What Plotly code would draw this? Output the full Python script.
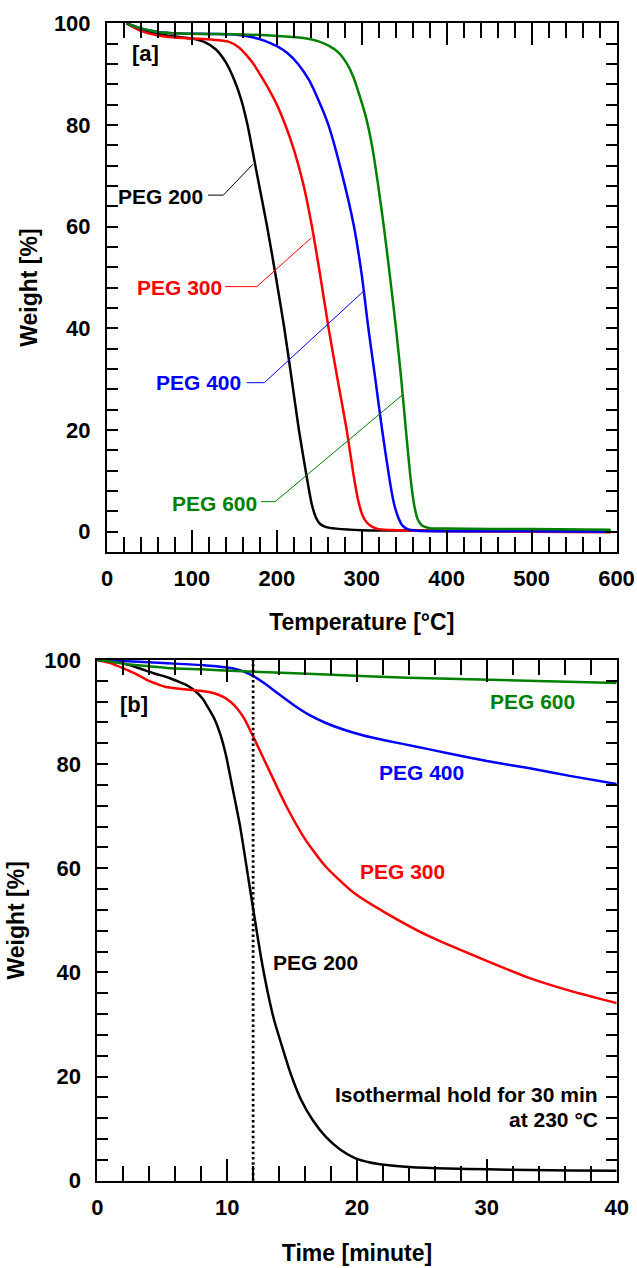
import plotly.graph_objects as go

# ---------------- Panel [a]: TGA ramp (Temperature vs weight) ----------------
peg200_T = [23, 40, 60, 80, 100, 115, 128, 140, 150, 158, 165.5, 177, 188.6, 199, 208.8, 217.5, 226, 236, 241, 246, 251, 258, 270, 300, 400, 500, 593]
peg200_W = [100, 98.8, 97.9, 97.4, 97.0, 96.3, 94.9, 92.3, 88.8, 85.0, 80, 70, 60, 50, 40, 30, 20, 10, 5.5, 2.8, 1.5, 0.9, 0.6, 0.3, 0.2, 0.1, 0.1]

peg300_T = [23, 40, 60, 80, 100, 123, 143, 155, 165, 173, 180, 190, 200, 210, 220, 231, 241.4, 251, 261, 271.5, 282.3, 290, 296, 301, 306, 312, 320, 340, 400, 500, 593]
peg300_W = [100, 98.5, 97.6, 97.2, 97.0, 96.8, 96.4, 95.3, 93.6, 91.9, 90.0, 87.2, 84.0, 80, 75.2, 68.5, 60, 50.5, 40, 30, 20, 11.5, 6, 3.2, 1.8, 1.0, 0.5, 0.3, 0.1, 0.0, -0.1]

peg400_T = [23, 40, 60, 85, 120, 150, 170, 185, 200, 212, 225, 238, 250, 260.7, 275, 290.9, 300, 307.8, 316, 324, 333, 338, 343, 348, 354, 365, 400, 500, 593]
peg400_W = [100, 99.0, 98.3, 98.0, 97.9, 97.8, 97.3, 96.6, 95.5, 94.2, 92.0, 88.8, 84.5, 80, 71.5, 60, 50.5, 40, 30, 20, 10, 5.5, 2.8, 1.2, 0.5, 0.2, 0.1, 0.1, 0.0]

peg600_T = [23, 40, 60, 85, 120, 160, 210, 235, 250, 262, 273, 282, 290, 298, 305, 312, 319, 326, 333, 340, 346.5, 352, 357.5, 362, 366, 371, 380, 400, 500, 593]
peg600_W = [100, 99.0, 98.3, 98.0, 97.9, 97.8, 97.4, 97.0, 96.4, 95.5, 94.2, 92.2, 89.5, 85.5, 81.5, 76, 68.5, 60, 50.5, 40.5, 30, 20, 10.5, 5, 2.4, 1.2, 0.7, 0.6, 0.5, 0.4]

# label text, label anchor (T, W), leader polyline (T list, W list)
a_labels = ["PEG 200", "PEG 300", "PEG 400", "PEG 600"]
a_label_T = [115, 137.2, 160.7, 179]
a_label_W = [65.9, 48.1, 29.3, 5.6]
a_leader_T = [[119, 137, 172], [139, 176.5, 240.6], [164.5, 185.2, 301.5], [181.4, 198, 348.6]]
a_leader_W = [[66.2, 66.2, 72.3], [48.2, 48.2, 57.8], [29.3, 29.3, 47.2], [5.9, 5.9, 27.0]]

# ---------------- Panel [b]: isothermal hold (Time vs weight) ----------------
b200_t = [0, 1.9, 3, 4.4, 5.5, 6.3, 7.0, 7.6, 8.1, 8.5, 9.0, 9.45, 9.9, 10.4, 11.0, 11.65, 12.1, 12.6, 13.1, 13.6, 14.2, 14.9, 15.7, 16.6, 17.6, 18.7, 19.8, 21, 22.3, 24, 27, 30, 33.3, 36.5, 40]
b200_W = [100, 99.4, 98.6, 97.4, 96.6, 95.8, 95.0, 93.9, 92.6, 91.0, 88.8, 85.9, 81.8, 75.6, 68.0, 57.8, 50.7, 43.0, 36.5, 31.0, 26.0, 20.5, 15.5, 11.6, 8.4, 6.0, 4.4, 3.5, 3.0, 2.65, 2.35, 2.2, 2.05, 1.95, 1.9]

b300_t = [0, 1, 2, 3, 3.8, 4.6, 5.3, 6.3, 7.1, 8.2, 9.0, 9.7, 10.3, 10.8, 11.33, 12.1, 13.2, 14.5, 16.0, 17.6, 19.8, 22.3, 25.5, 29.8, 33.3, 36.5, 40]
b300_W = [100, 99.4, 98.4, 97.3, 96.2, 95.4, 94.8, 94.5, 94.3, 94.0, 93.6, 92.9, 91.9, 90.6, 88.7, 84.8, 79.0, 72.2, 65.6, 60.3, 55.2, 51.3, 47.0, 42.4, 38.9, 36.4, 34.1]

b400_t = [0, 2, 5.06, 8.2, 10.4, 11.65, 12.9, 14.0, 15.2, 16.35, 17.6, 19.0, 20.5, 22.3, 24.5, 27, 30, 33.3, 36.5, 40]
b400_W = [100, 99.8, 99.4, 99.0, 98.4, 97.4, 95.5, 93.4, 91.2, 89.4, 87.9, 86.6, 85.5, 84.5, 83.4, 82.1, 80.6, 79.2, 77.7, 76.2]

b600_t = [0, 1, 2.3, 4, 5.7, 8, 10.7, 12.6, 17.6, 23.9, 30.2, 40]
b600_W = [100, 99.7, 99.2, 98.8, 98.4, 98.2, 97.9, 97.7, 97.2, 96.6, 96.2, 95.6]

b_labels = ["PEG 200", "PEG 300", "PEG 400", "PEG 600"]
b_label_t = [16.84, 23.5, 24.96, 33.5]
b_label_W = [42.0, 59.3, 78.3, 92.0]
hold_start_t = 12
iso_lines = ["Isothermal hold for 30 min", "at 230 °C"]
iso_t = 38.7
iso_W = [16.46, 11.66]

colors = ["#000000", "#ff0000", "#0000ff", "#008000"]
FONT = "Liberation Sans"

fig = go.Figure()
top_series = [(peg200_T, peg200_W), (peg300_T, peg300_W), (peg400_T, peg400_W), (peg600_T, peg600_W)]
bot_series = [(b200_t, b200_W), (b300_t, b300_W), (b400_t, b400_W), (b600_t, b600_W)]
for (xs, ys), c, name in zip(top_series, colors, a_labels):
    fig.add_trace(go.Scatter(x=xs, y=ys, mode="lines", name=name, line=dict(color=c, width=2.5, shape="spline", smoothing=0.6),
                             xaxis="x", yaxis="y", showlegend=False))
for (xs, ys), c, name in zip(bot_series, colors, b_labels):
    fig.add_trace(go.Scatter(x=xs, y=ys, mode="lines", name=name, line=dict(color=c, width=2.5, shape="spline", smoothing=0.6),
                             xaxis="x2", yaxis="y2", showlegend=False))

# leaders (panel a)
for lt, lw, c in zip(a_leader_T, a_leader_W, colors):
    fig.add_trace(go.Scatter(x=lt, y=lw, mode="lines", line=dict(color=c, width=1), xaxis="x", yaxis="y",
                             showlegend=False, hoverinfo="skip"))

# dotted line (panel b)
fig.add_trace(go.Scatter(x=[hold_start_t, hold_start_t], y=[0, 100], mode="lines",
                         line=dict(color="black", width=2.8, dash="2.5px,2.8px"), xaxis="x2", yaxis="y2",
                         showlegend=False, hoverinfo="skip"))

ann = []
ann.append(dict(text="[a]", x=44.8, y=94.0, xref="x", yref="y", showarrow=False,
                font=dict(family=FONT, size=22, color="black", weight="bold")))
for t, xx, yy, c in zip(a_labels, a_label_T, a_label_W, colors):
    ann.append(dict(text=t, x=xx, y=yy, xref="x", yref="y", xanchor="right", showarrow=False,
                    font=dict(family=FONT, size=21, color=c, weight="bold")))
ann.append(dict(text="[b]", x=2.83, y=91.5, xref="x2", yref="y2", showarrow=False,
                font=dict(family=FONT, size=22, color="black", weight="bold")))
for t, xx, yy, c in zip(b_labels, b_label_t, b_label_W, colors):
    ann.append(dict(text=t, x=xx, y=yy, xref="x2", yref="y2", showarrow=False,
                    font=dict(family=FONT, size=21, color=c, weight="bold")))
for t, yy in zip(iso_lines, iso_W):
    ann.append(dict(text=t, x=iso_t, y=yy, xref="x2", yref="y2", xanchor="right", showarrow=False,
                    font=dict(family=FONT, size=21, color="black", weight="bold")))

tickfont = dict(family=FONT, size=22, color="black", weight="bold")
titlefont = dict(family=FONT, size=23, color="black", weight="bold")

def xax(rng, dtick, mdtick, dom, anchor, title, standoff):
    return dict(range=rng, dtick=dtick, tick0=0, domain=dom, anchor=anchor, showgrid=False, zeroline=False,
                showline=True, linewidth=2, linecolor="black", mirror="allticks", automargin=False,
                ticks="inside", ticklen=22, tickwidth=2, tickcolor="black",
                minor=dict(dtick=mdtick, tick0=0, ticks="inside", ticklen=15, tickwidth=2, tickcolor="black", showgrid=False),
                tickfont=tickfont, ticklabelstandoff=6,
                title=dict(text=title, font=titlefont, standoff=standoff))

def yax(rng, dom, anchor, standoff):
    return dict(range=rng, dtick=20, tick0=0, domain=dom, anchor=anchor, showgrid=False, zeroline=False,
                showline=True, linewidth=2, linecolor="black", mirror="allticks", automargin=False,
                ticks="inside", ticklen=11, tickwidth=2, tickcolor="black",
                minor=dict(dtick=4, tick0=0, ticks="inside", ticklen=11, tickwidth=2, tickcolor="black", showgrid=False),
                tickfont=tickfont, ticklabelstandoff=10,
                title=dict(text="Weight [%]", font=titlefont, standoff=standoff))

W, H = 637, 1268
fig.update_layout(
    width=W, height=H, margin=dict(l=0, r=0, t=0, b=0, autoexpand=False),
    paper_bgcolor="white", plot_bgcolor="white", showlegend=False,
    xaxis=xax([0, 600], 100, 20, [107 / W, 616.5 / W], "y", "Temperature [°C]", 23),
    yaxis=yax([-4, 100], [1 - 552 / H, 1 - 23.3 / H], "x", 10),
    xaxis2=xax([0, 40], 10, 2, [97.3 / W, 616.7 / W], "y2", "Time [minute]", 26),
    yaxis2=yax([0, 100], [1 - 1180.7 / H, 1 - 660 / H], "x2", 13),
    annotations=ann,
)

fig.write_html("out.html")
